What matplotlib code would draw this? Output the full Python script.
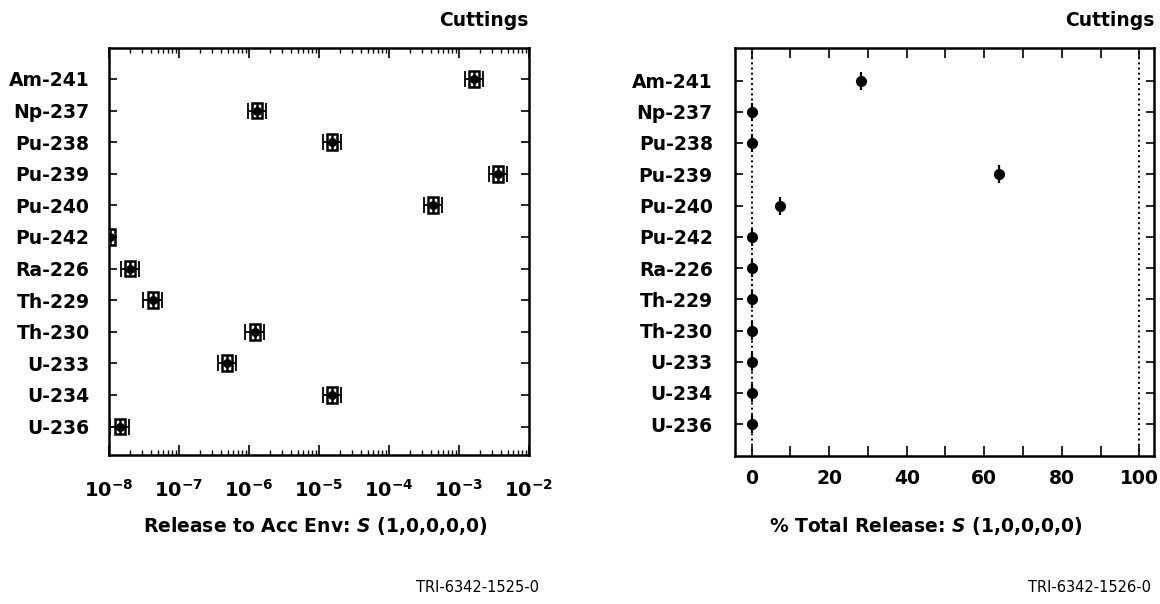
import numpy as np
import matplotlib
matplotlib.use('Agg')
import matplotlib.pyplot as plt
from matplotlib.ticker import FixedLocator, LogLocator, NullFormatter

plt.rcParams['font.family'] = 'DejaVu Sans'
plt.rcParams['mathtext.fontset'] = 'dejavusans'

# radionuclides, top to bottom
nuclides = ['Am-241', 'Np-237', 'Pu-238', 'Pu-239', 'Pu-240', 'Pu-242',
            'Ra-226', 'Th-229', 'Th-230', 'U-233', 'U-234', 'U-236']

# release to accessible environment (left panel)
release = [1.65e-3, 1.3e-6, 1.55e-5, 3.6e-3, 4.3e-4, 1.03e-8,
           2.0e-8, 4.2e-8, 1.2e-6, 4.8e-7, 1.55e-5, 1.42e-8]
box_lo = [1.40e-3, 1.10e-6, 1.31e-5, 3.05e-3, 3.64e-4, 0.87e-8,
          1.69e-8, 3.56e-8, 1.02e-6, 4.07e-7, 1.31e-5, 1.20e-8]
box_hi = [1.95e-3, 1.53e-6, 1.83e-5, 4.25e-3, 5.07e-4, 1.22e-8,
          2.36e-8, 4.96e-8, 1.42e-6, 5.66e-7, 1.83e-5, 1.68e-8]
whisk_lo = [1.22e-3, 0.96e-6, 1.15e-5, 2.67e-3, 3.19e-4, 0.87e-8,
            1.48e-8, 3.11e-8, 0.89e-6, 3.56e-7, 1.15e-5, 1.05e-8]
whisk_hi = [2.23e-3, 1.76e-6, 2.09e-5, 4.86e-3, 5.80e-4, 1.22e-8,
            2.70e-8, 5.67e-8, 1.62e-6, 6.48e-7, 2.09e-5, 1.92e-8]

# percent of total release (right panel)
pct_total = [28.1, 0.0, 0.2, 63.7, 7.3, 0.0, 0.0, 0.0, 0.0, 0.1, 0.2, 0.0]

log_ticks = [1e-8, 1e-7, 1e-6, 1e-5, 1e-4, 1e-3, 1e-2]
log_labels = [r'$\mathbf{10^{-8}}$', r'$\mathbf{10^{-7}}$', r'$\mathbf{10^{-6}}$',
              r'$\mathbf{10^{-5}}$', r'$\mathbf{10^{-4}}$', r'$\mathbf{10^{-3}}$',
              r'$\mathbf{10^{-2}}$']
pct_ticks = [0, 20, 40, 60, 80, 100]

fig = plt.figure(figsize=(11.6, 6.04), dpi=100)
ax1 = fig.add_axes([109 / 1160, 149 / 604, 420 / 1160, 407 / 604])
ax2 = fig.add_axes([735 / 1160, 148.5 / 604, 419 / 1160, 407.5 / 604])

ypos = np.arange(len(nuclides))
rel = np.array(release)

# ---- left panel: release on log scale
ax1.set_xscale('log')
xerr = [rel - np.array(whisk_lo), np.array(whisk_hi) - rel]
ax1.errorbar(rel, ypos, xerr=xerr, fmt='none', ecolor='black', elinewidth=1.3,
             capsize=6, capthick=1.3, zorder=2)
ax1.barh(ypos, np.array(box_hi) - np.array(box_lo), left=box_lo, height=0.5,
         facecolor='white', edgecolor='black', linewidth=1.8, zorder=3)
ax1.hlines(ypos, box_lo, box_hi, color='black', linewidth=1.8, zorder=4)
ax1.vlines(rel, ypos - 0.25, ypos + 0.25, color='black', linewidth=1.8, zorder=4)
ax1.plot(rel, ypos, 'o', color='black', markersize=5.5, zorder=5)

ax1.set_xlim(1e-8, 1e-2)
ax1.set_ylim(11.9, -0.98)
ax1.xaxis.set_major_locator(FixedLocator(log_ticks))
ax1.set_xticklabels(log_labels)
ax1.xaxis.set_minor_locator(LogLocator(base=10, subs=np.arange(2, 10), numticks=20))
ax1.xaxis.set_minor_formatter(NullFormatter())
ax1.set_yticks(ypos)
ax1.set_yticklabels(nuclides, fontweight='bold', fontsize=13.5)
ax1.tick_params(axis='x', which='major', direction='in', top=True, length=7,
                width=1.2, labelsize=14, pad=17)
ax1.tick_params(axis='x', which='minor', direction='in', top=True, length=3.5, width=1)
ax1.tick_params(axis='y', direction='in', right=True, length=6, width=1.2, pad=14)

# ---- right panel: percent of total
ax2.axvline(0, color='black', linestyle=':', linewidth=1.4, zorder=1)
ax2.axvline(100, color='black', linestyle=':', linewidth=1.4, zorder=1)
ax2.plot(pct_total, ypos, '|', color='black', markersize=13, markeredgewidth=1.6, zorder=3)
ax2.plot(pct_total, ypos, 'o', color='black', markersize=7, zorder=4)

ax2.set_xlim(-4.3, 103.8)
ax2.set_ylim(12.0, -1.04)
ax2.set_xticks(np.arange(0, 101, 10))
ax2.set_xticklabels([str(t) if t in pct_ticks else '' for t in range(0, 101, 10)],
                    fontweight='bold', fontsize=13.5)
ax2.set_yticks(ypos)
ax2.set_yticklabels(nuclides, fontweight='bold', fontsize=13.5)
ax2.tick_params(axis='x', direction='in', top=True, length=7, width=1.2, pad=10)
ax2.tick_params(axis='y', direction='in', right=True, length=6, width=1.2, pad=16)

for ax in (ax1, ax2):
    for sp in ax.spines.values():
        sp.set_linewidth(1.8)

fig.text(529 / 1160, 1 - 20 / 604, 'Cuttings', ha='right', va='center',
         fontsize=13.5, fontweight='bold')
fig.text(1154 / 1160, 1 - 20 / 604, 'Cuttings', ha='right', va='center',
         fontsize=13.5, fontweight='bold')

fig.text(315 / 1160, 1 - 526 / 604, r'Release to Acc Env: $\mathbfit{S}$ (1,0,0,0,0)',
         ha='center', va='center', fontsize=13.5, fontweight='bold')
fig.text(926 / 1160, 1 - 526 / 604, r'% Total Release: $\mathbfit{S}$ (1,0,0,0,0)',
         ha='center', va='center', fontsize=13.5, fontweight='bold')

fig.text(478 / 1160, 1 - 588 / 604, 'TRI-6342-1525-0', ha='center', va='center', fontsize=10.5)
fig.text(1090 / 1160, 1 - 588 / 604, 'TRI-6342-1526-0', ha='center', va='center', fontsize=10.5)

fig.savefig('out.png', dpi=100)
